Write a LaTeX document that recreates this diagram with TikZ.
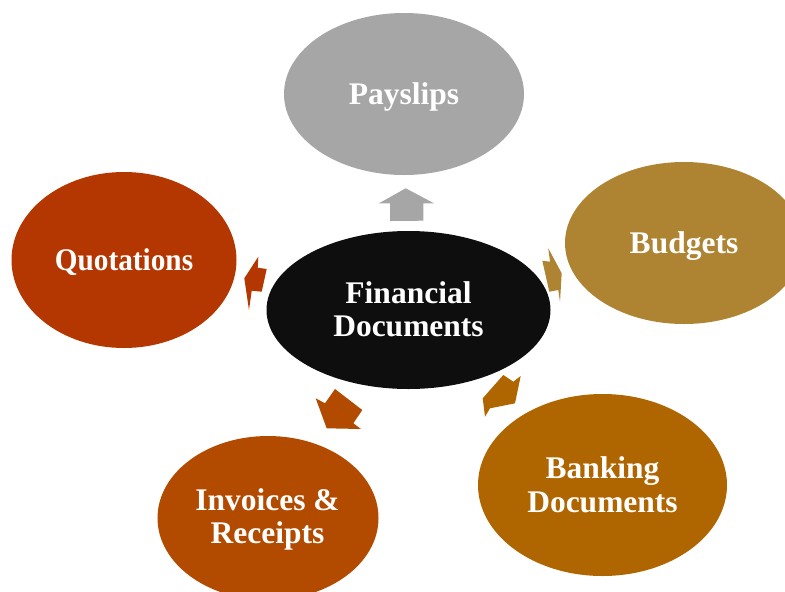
\documentclass[tikz,border=0pt]{standalone}
\usepackage{fontspec}
\setmainfont{Liberation Serif}
\usetikzlibrary{shapes.geometric}
\definecolor{cpay}{HTML}{A6A6A6}
\definecolor{cbud}{HTML}{AE8433}
\definecolor{cquo}{HTML}{B43600}
\definecolor{cfin}{HTML}{0E0E0E}
\definecolor{cinv}{HTML}{B24B00}
\definecolor{cbank}{HTML}{AF6500}
\begin{document}
\begin{tikzpicture}[x=1pt,y=-1pt,
  bub/.style={ellipse, inner sep=0pt, draw=none},
  lbl/.style={anchor=base, inner sep=0pt, text=white, font=\bfseries\fontsize{31.5}{33}\selectfont},
  blockarrow/.style={draw=none}]
\useasboundingbox (0,0) rectangle (785,592);
\clip (0,0) rectangle (785,592);
% ellipses
\node[bub, fill=cpay,  minimum width=240, minimum height=162] (pay)  at (404,94)  {};
\node[bub, fill=cbud,  minimum width=238, minimum height=162] (bud)  at (684,243) {};
\node[bub, fill=cquo,  minimum width=225, minimum height=176] (quo)  at (124,260) {};
\node[bub, fill=cfin,  minimum width=284, minimum height=158] (fin)  at (408.5,310) {};
\node[bub, fill=cinv,  minimum width=221, minimum height=164] (inv)  at (268,518) {};
\node[bub, fill=cbank, minimum width=249, minimum height=182] (bank) at (602.5,485) {};
% labels
\node[lbl] (tpay)  at (404,104) {Payslips};
\node[lbl] (tbud)  at (684,253) {Budgets};
\node[lbl] (tquo)  at (124,270) {\scalebox{0.93}[1]{Quotations}};
\node[lbl] (tfin1) at (408.5,303) {Financial};
\node[lbl] (tfin2) at (408.5,336) {Documents};
\node[lbl] (tinv1) at (267.5,510) {Invoices \&};
\node[lbl] (tinv2) at (267.5,543) {Receipts};
\node[lbl] (tbk1)  at (602.5,478) {Banking};
\node[lbl] (tbk2)  at (602.5,512) {Documents};
% block arrows
\fill[cpay] (390,221) -- (390,203.3) -- (379,203.3) -- (405.7,188.3) -- (434,203.3) -- (423.3,203.3) -- (423.3,220.7) -- cycle;
\fill[cbud] (542.3,260.7) -- (550,261.7) -- (548.3,248.3) -- (561.7,273.3) -- (560,301.7) -- (558.3,290) -- (549.3,291.7) -- cycle;
\fill[cquo] (258.3,256.7) -- (257.7,267.7) -- (266.7,269) -- (261.7,291.7) -- (251.7,290.7) -- (249,310) -- (244.3,278.3) -- cycle;
\fill[cinv] (335,389) -- (362.3,410) -- (353.3,423.3) -- (361,429) -- (326.7,428.3) -- (315.7,398.3) -- (325,403.3) -- cycle;
\fill[cbank] (503.3,375) -- (513.3,381.7) -- (520.7,376) -- (515,403.3) -- (490,408.3) -- (485,416.7) -- (482.7,398.3) -- cycle;
\end{tikzpicture}
\end{document}
